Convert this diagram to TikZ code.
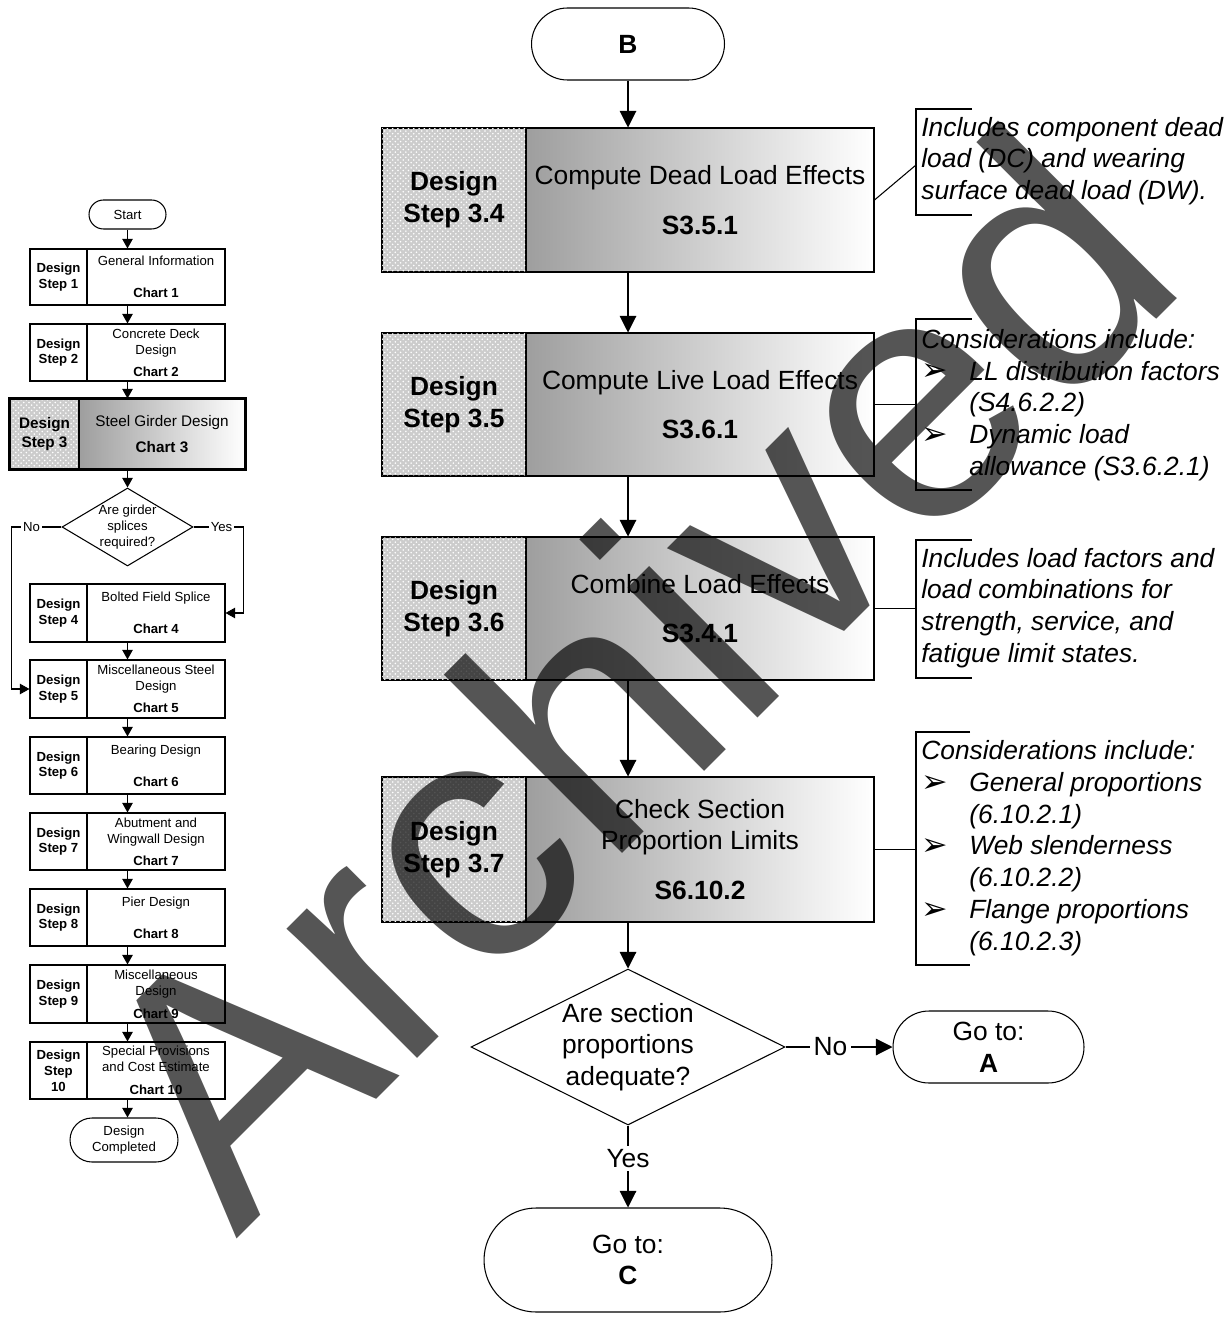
\documentclass[tikz,border=0pt]{standalone}
\usepackage{fontspec}
\setmainfont{Liberation Sans}
\newfontfamily\djv{DejaVu Sans}
\usetikzlibrary{arrows.meta,shapes.geometric,patterns}
\def\fbig{\fontsize{15}{18.1}\selectfont}
\def\fsm{\fontsize{7.5}{9}\selectfont}
\def\fmid{\fontsize{8.7}{10.7}\selectfont}
\newcommand\mybul{\makebox[0.96cm][l]{\raisebox{-0.5pt}{\djv\upshape\fontsize{18}{18}\selectfont ➢}}}
\newcommand\myind{\hspace*{0.96cm}}
\begin{document}
\begin{tikzpicture}[x=0.02cm,y=-0.02cm,
  every node/.style={inner sep=0pt},
  thin line/.style={line width=0.6pt},
  hatchc/.style={draw, line width=0.6pt, fill=black!20, postaction={pattern=crosshatch dots, pattern color=white}},
  gradc/.style={draw, line width=0.6pt, left color=black!38, right color=white},
  plainc/.style={draw, line width=0.6pt, fill=white},
  term/.style={draw, line width=0.6pt, fill=white, align=center},
  marr/.style={line width=0.6pt, -{Triangle[length=9.5pt,width=9.5pt]}},
  sarr/.style={line width=0.6pt, -{Triangle[length=5.5pt,width=6pt]}},
  big/.style={font=\fbig, align=center},
  bigb/.style={font=\fbig\bfseries, align=center},
  sm/.style={font=\fsm, align=center},
  smb/.style={font=\fsm\bfseries, align=center},
  ann/.style={font=\fbig\itshape, align=left, anchor=west}
]
\fill[white] (0,0) rectangle (1230,1317);
\useasboundingbox (0,0) rectangle (1230,1317);

% ---------------- main column ----------------
\node[term, font=\fbig\bfseries, minimum width=3.86cm, minimum height=1.44cm, rounded corners=0.72cm] (B) at (628,44) {B};

\node[hatchc, bigb, minimum width=2.88cm, minimum height=2.88cm] (l34) at (454,200) {Design\\Step 3.4};
\node[gradc, big, minimum width=6.96cm, minimum height=2.88cm] (r34) at (700,200) {Compute Dead Load Effects\\[10.2pt]\textbf{S3.5.1}};

\node[hatchc, bigb, minimum width=2.88cm, minimum height=2.86cm] (l35) at (454,404.5) {Design\\Step 3.5};
\node[gradc, big, minimum width=6.96cm, minimum height=2.86cm] (r35) at (700,404.5) {Compute Live Load Effects\\[10.2pt]\textbf{S3.6.1}};

\node[hatchc, bigb, minimum width=2.88cm, minimum height=2.86cm] (l36) at (454,608.5) {Design\\Step 3.6};
\node[gradc, big, minimum width=6.96cm, minimum height=2.86cm] (r36) at (700,608.5) {Combine Load Effects\\[10.2pt]\textbf{S3.4.1}};

\node[hatchc, bigb, minimum width=2.88cm, minimum height=2.9cm] (l37) at (454,849.5) {Design\\Step 3.7};
\node[gradc, big, minimum width=6.96cm, minimum height=2.9cm] (r37) at (700,849.5) {Check Section\\Proportion Limits\\[10.2pt]\textbf{S6.10.2}};

\node[draw, thin line, diamond, fill=white, minimum width=6.28cm, minimum height=3.12cm] (q2) at (628,1047) {};
\node[big] (q2t) at (628,1047) {Are section\\proportions\\adequate?};

\node[term, font=\fbig, minimum width=3.82cm, minimum height=1.44cm, rounded corners=0.72cm] (gA) at (988.5,1047) {Go to:\\\textbf{A}};
\node[term, font=\fbig, minimum width=5.76cm, minimum height=2.08cm, rounded corners=1.04cm] (gC) at (628,1260) {Go to:\\\textbf{C}};

\draw[marr] (B.south) -- (B.south |- r34.north);
\draw[marr] (r34.south -| B.south) -- (r35.north -| B.south);
\draw[marr] (r35.south -| B.south) -- (r36.north -| B.south);
\draw[marr] (r36.south -| B.south) -- (r37.north -| B.south);
\draw[marr] (r37.south -| B.south) -- (q2.north);
\draw[marr] (q2.east) -- node[pos=0.42, fill=white, inner sep=2pt, font=\fbig] (no2) {No} (gA.west);
\draw[marr] (q2.south) -- node[pos=0.4, fill=white, inner sep=2pt, font=\fbig] (yes2) {Yes} (gC.north);

% ---------------- annotations ----------------
\draw[thin line] (972,109) -- (916,109) -- (916,215) -- (972,215);
\draw[thin line] (r34.east) -- (916,165);
\node[ann] (t1) at (921,161) {Includes component dead\\load (DC) and wearing\\surface dead load (DW).};

\draw[thin line] (972,319) -- (916,319) -- (916,490) -- (972,490);
\draw[thin line] (r35.east) -- ++(42,0);
\node[ann] (t2) at (921,405) {Considerations include:\\\mybul LL distribution factors\\\myind(S4.6.2.2)\\\mybul Dynamic load\\\myind allowance (S3.6.2.1)};

\draw[thin line] (972,540) -- (916,540) -- (916,678) -- (972,678);
\draw[thin line] (r36.east) -- ++(42,0);
\node[ann] (t3) at (921,608) {Includes load factors and\\load combinations for\\strength, service, and\\fatigue limit states.};

\draw[thin line] (970,732) -- (916,732) -- (916,965) -- (970,965);
\draw[thin line] (r37.east) -- ++(42,0);
\node[ann] (t4) at (921,848) {Considerations include:\\\mybul General proportions\\\myind(6.10.2.1)\\\mybul Web slenderness\\\myind(6.10.2.2)\\\mybul Flange proportions\\\myind(6.10.2.3)};

% ---------------- small chart ----------------
\node[term, font=\fsm, minimum width=1.54cm, minimum height=0.58cm, rounded corners=0.29cm] (st) at (127.5,214.5) {Start};

\node[plainc, smb, minimum width=1.14cm, minimum height=1.12cm] (l1) at (58.5,277) {Design\\Step 1};
\node[plainc, sm, minimum width=2.76cm, minimum height=1.12cm] (r1) at (156,277) {General Information\\[9pt]\textbf{Chart 1}};

\node[plainc, smb, minimum width=1.14cm, minimum height=1.14cm] (l2) at (58.5,352.5) {Design\\Step 2};
\node[plainc, sm, minimum width=2.76cm, minimum height=1.14cm] (r2) at (156,352.5) {Concrete Deck\\Design\\[3.4pt]\textbf{Chart 2}};

\node[hatchc, font=\fmid\bfseries, align=center, minimum width=1.38cm, minimum height=1.4cm] (l3) at (44.5,434) {Design\\Step 3};
\node[gradc, font=\fmid, align=center, minimum width=3.32cm, minimum height=1.4cm] (r3) at (162,434) {Steel Girder Design\\[4pt]\textbf{Chart 3}};
\draw[line width=1.7pt] (l3.north west) rectangle (r3.south east);

\node[draw, thin line, diamond, fill=white, minimum width=2.62cm, minimum height=1.56cm] (q1) at (127.5,527) {};
\node[sm] (q1t) at (127.5,527) {Are girder\\splices\\required?};

\node[plainc, smb, minimum width=1.14cm, minimum height=1.16cm] (l4) at (58.5,613) {Design\\Step 4};
\node[plainc, sm, minimum width=2.76cm, minimum height=1.16cm] (r4) at (156,613) {Bolted Field Splice\\[9pt]\textbf{Chart 4}};

\node[plainc, smb, minimum width=1.14cm, minimum height=1.16cm] (l5) at (58.5,689) {Design\\Step 5};
\node[plainc, sm, minimum width=2.76cm, minimum height=1.16cm] (r5) at (156,689) {Miscellaneous Steel\\Design\\[3.4pt]\textbf{Chart 5}};

\node[plainc, smb, minimum width=1.14cm, minimum height=1.14cm] (l6) at (58.5,765.5) {Design\\Step 6};
\node[plainc, sm, minimum width=2.76cm, minimum height=1.14cm] (r6) at (156,765.5) {Bearing Design\\[9pt]\textbf{Chart 6}};

\node[plainc, smb, minimum width=1.14cm, minimum height=1.14cm] (l7) at (58.5,841.5) {Design\\Step 7};
\node[plainc, sm, minimum width=2.76cm, minimum height=1.14cm] (r7) at (156,841.5) {Abutment and\\Wingwall Design\\[3.4pt]\textbf{Chart 7}};

\node[plainc, smb, minimum width=1.14cm, minimum height=1.14cm] (l8) at (58.5,917.5) {Design\\Step 8};
\node[plainc, sm, minimum width=2.76cm, minimum height=1.14cm] (r8) at (156,917.5) {Pier Design\\[9pt]\textbf{Chart 8}};

\node[plainc, smb, minimum width=1.14cm, minimum height=1.16cm] (l9) at (58.5,994) {Design\\Step 9};
\node[plainc, sm, minimum width=2.76cm, minimum height=1.16cm] (r9) at (156,994) {Miscellaneous\\Design\\[4pt]\textbf{Chart 9}};

\node[plainc, smb, minimum width=1.14cm, minimum height=1.14cm] (l10) at (58.5,1070.5) {Design\\Step\\10};
\node[plainc, sm, minimum width=2.76cm, minimum height=1.14cm] (r10) at (156,1070.5) {Special Provisions\\and Cost Estimate\\[4pt]\textbf{Chart 10}};

\node[term, font=\fsm, minimum width=2.16cm, minimum height=0.88cm, rounded corners=0.44cm] (dc) at (124,1140) {Design\\Completed};

\draw[sarr] (st.south) -- (st.south |- r1.north);
\draw[sarr] (r1.south -| st.south) -- (r2.north -| st.south);
\draw[sarr] (r2.south -| st.south) -- (r3.north -| st.south);
\draw[sarr] (r3.south -| st.south) -- (q1.north);
\draw[sarr] (q1.west) -- node[pos=0.6, fill=white, inner sep=1pt, font=\fsm] (no1) {No} ++(-50,0) |- (l5.west);
\draw[sarr] (q1.east) -- node[pos=0.56, fill=white, inner sep=1pt, font=\fsm] (yes1) {Yes} ++(50,0) |- (r4.east);
\draw[sarr] (r4.south -| st.south) -- (r5.north -| st.south);
\draw[sarr] (r5.south -| st.south) -- (r6.north -| st.south);
\draw[sarr] (r6.south -| st.south) -- (r7.north -| st.south);
\draw[sarr] (r7.south -| st.south) -- (r8.north -| st.south);
\draw[sarr] (r8.south -| st.south) -- (r9.north -| st.south);
\draw[sarr] (r9.south -| st.south) -- (r10.north -| st.south);
\draw[sarr] (r10.south -| st.south) -- (st.south |- dc.north);

% ---------------- watermark ----------------
\node[rotate=45, anchor=base west, inner sep=0pt, text=black, text opacity=0.667, font=\fontsize{198}{200}\selectfont] (wm) at (236,1240) {Archived};
\end{tikzpicture}
\end{document}
